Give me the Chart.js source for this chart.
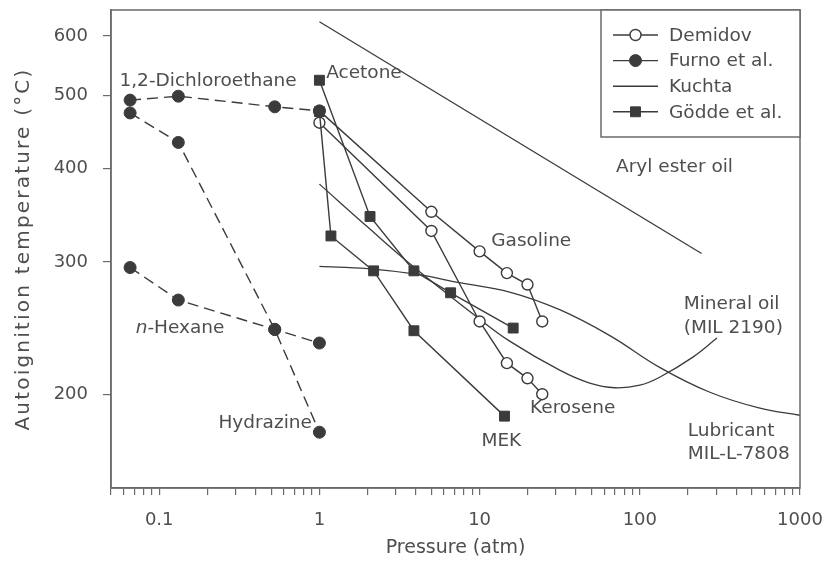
<!DOCTYPE html>
<html>
<head>
<meta charset="utf-8">
<script src="https://cdn.jsdelivr.net/npm/chart.js@4/dist/chart.umd.min.js"></script>
<style>
html,body{margin:0;padding:0;background:#fff;}
#wrap{width:826px;height:562px;}
</style>
</head>
<body>
<div id="wrap"><canvas id="c" width="826" height="562"></canvas></div>
<script>
// ---------------- data ----------------
const xTickValues = [0.1, 1, 10, 100, 1000];
const xTickLabels = ['0.1', '1', '10', '100', '1000'];
const yTickValues = [200, 300, 400, 500, 600];
const yTickLabels = ['200', '300', '400', '500', '600'];
const legendNames = ['Demidov', 'Furno et al.', 'Kuchta', 'Gödde et al.'];

// Demidov (open circles)
const gasolineP = [1, 5, 10, 14.8, 19.9, 24.6];
const gasolineT = [477, 350, 310, 290, 280, 250];
const keroseneP = [1, 5, 10, 14.8, 19.9, 24.6];
const keroseneT = [460, 330, 250, 220, 210, 200];

// Furno et al. (filled circles, dashed)
const furnoP = [0.0658, 0.1316, 0.526, 1];
const dichloroethaneT = [493, 499, 483, 477];
const hydrazineT = [474, 433, 244, 178];
const hexaneT = [295, 267, 244, 234];

// Kuchta (plain lines)
const arylEsterP = [1, 243];
const arylEsterT = [627, 308];
const mineralOilP = [1, 2, 3.92, 10, 15.4, 31.6, 48.7, 69.8, 100, 133, 214.5, 303];
const mineralOilT = [381, 334, 295, 251.8, 235.4, 215.3, 206.9, 204, 205.6, 210.7, 224.1, 237.6];
const lubricantP = [1, 2, 4, 7.5, 15.4, 31.6, 65, 133, 274, 562, 1000];
const lubricantT = [296, 294, 289, 281.6, 273.6, 259.2, 239.4, 217.2, 201.2, 191.6, 187.5];

// Gödde et al. (filled squares)
const acetoneP = [1, 2.07, 3.89, 6.59, 16.2];
const acetoneT = [524, 345, 292, 273, 245];
const mekP = [1, 1.18, 2.18, 3.89, 14.3];
const mekT = [476, 325, 292, 243, 187];

// text labels placed in data coordinates (atm, °C)
const annotations = [
  {text: '1,2-Dichloroethane', x: 0.2017, y: 523, align: 'center'},
  {text: 'Acetone', x: 1.897, y: 535, align: 'center'},
  {text: 'Aryl ester oil', x: 164.7, y: 401, align: 'center'},
  {text: 'Gasoline', x: 21.0, y: 320, align: 'center'},
  {text: 'Mineral oil', x: 188, y: 263.5, align: 'left'},
  {text: '(MIL 2190)', x: 188, y: 245, align: 'left'},
  {text: 'Kerosene', x: 38.1, y: 191.8, align: 'center'},
  {text: 'MEK', x: 13.66, y: 173.2, align: 'center'},
  {text: 'Lubricant', x: 199.5, y: 178.5, align: 'left'},
  {text: 'MIL-L-7808', x: 199.5, y: 166.5, align: 'left'},
  {text: '-Hexane', italicPrefix: 'n', x: 0.1349, y: 244.7, align: 'center'},
  {text: 'Hydrazine', x: 0.4585, y: 183, align: 'center'}
];

// ---------------- styles ----------------
const INK = '#3b3b3b';
const TEXT = '#4e4e4e';
const FAMILY = '"DejaVu Sans", Verdana, sans-serif';

function pts(P, T) { return P.map((p, i) => ({x: p, y: T[i]})); }

const demidovStyle = {borderColor: INK, borderWidth: 1.4, pointStyle: 'circle', pointRadius: 5.5,
  pointBackgroundColor: '#fff', pointBorderColor: INK, pointBorderWidth: 1.4};
const furnoStyle = {borderColor: INK, borderWidth: 1.4, borderDash: [11, 6], pointStyle: 'circle', pointRadius: 6,
  pointBackgroundColor: INK, pointBorderColor: INK, pointBorderWidth: 1};
const kuchtaStyle = {borderColor: INK, borderWidth: 1.3, pointRadius: 0, tension: 0.4};
const goddeStyle = {borderColor: INK, borderWidth: 1.4, pointStyle: 'rect', pointRadius: 7,
  pointBackgroundColor: INK, pointBorderColor: INK, pointBorderWidth: 1};

const datasets = [
  Object.assign({label: '1,2-Dichloroethane', data: pts(furnoP, dichloroethaneT)}, furnoStyle),
  Object.assign({label: 'Hydrazine', data: pts(furnoP, hydrazineT)}, furnoStyle),
  Object.assign({label: 'n-Hexane', data: pts(furnoP, hexaneT)}, furnoStyle),
  Object.assign({label: 'Acetone', data: pts(acetoneP, acetoneT)}, goddeStyle),
  Object.assign({label: 'MEK', data: pts(mekP, mekT)}, goddeStyle),
  Object.assign({label: 'Gasoline', data: pts(gasolineP, gasolineT)}, demidovStyle),
  Object.assign({label: 'Kerosene', data: pts(keroseneP, keroseneT)}, demidovStyle),
  Object.assign({label: 'Aryl ester oil', data: pts(arylEsterP, arylEsterT)}, kuchtaStyle, {tension: 0}),
  Object.assign({label: 'Mineral oil (MIL 2190)', data: pts(mineralOilP, mineralOilT)}, kuchtaStyle),
  Object.assign({label: 'Lubricant MIL-L-7808', data: pts(lubricantP, lubricantT)}, kuchtaStyle)
];

// all x tick marks (labelled decades + unlabelled minor marks)
const xAllTicks = [];
for (let e = -2; e <= 2; e++) {
  for (let m = 1; m <= 9; m++) {
    const v = Number((m * Math.pow(10, e)).toPrecision(3));
    if (v >= 0.05 && v <= 1000) xAllTicks.push(v);
  }
}
xAllTicks.push(1000);

// ---------------- plugins ----------------
const spacedYTitle = {
  id: 'spacedYTitle',
  beforeDraw(chart) {
    const s = chart.scales.y;
    if (s && !s._spacedTitle) {
      const orig = s.drawTitle.bind(s);
      s.drawTitle = function () {
        const ctx = this.ctx;
        const prev = ctx.letterSpacing;
        ctx.letterSpacing = '2.2px';
        orig();
        ctx.letterSpacing = prev || '0px';
      };
      s._spacedTitle = true;
    }
  }
};

const frameTextLegend = {
  id: 'frameTextLegend',
  afterDatasetsDraw(chart) {
    const ctx = chart.ctx;
    const a = chart.chartArea;
    const xs = chart.scales.x, ys = chart.scales.y;
    ctx.save();
    // frame
    ctx.strokeStyle = '#6a6a6a';
    ctx.lineWidth = 1.5;
    ctx.strokeRect(a.left, a.top, a.right - a.left, a.bottom - a.top);

    // annotations
    ctx.fillStyle = TEXT;
    ctx.textBaseline = 'middle';
    const normalFont = '18.5px ' + FAMILY;
    const italicFont = 'italic 18.5px ' + FAMILY;
    annotations.forEach(an => {
      const px = xs.getPixelForValue(an.x);
      const py = ys.getPixelForValue(an.y);
      if (an.italicPrefix) {
        ctx.font = italicFont;
        const w1 = ctx.measureText(an.italicPrefix).width;
        ctx.font = normalFont;
        const w2 = ctx.measureText(an.text).width;
        let start = an.align === 'left' ? px : px - (w1 + w2) / 2;
        ctx.textAlign = 'left';
        ctx.font = italicFont;
        ctx.fillText(an.italicPrefix, start, py);
        ctx.font = normalFont;
        ctx.fillText(an.text, start + w1, py);
      } else {
        ctx.font = normalFont;
        ctx.textAlign = an.align || 'center';
        ctx.fillText(an.text, px, py);
      }
    });

    // legend box
    const bw = 199, bh = 127;
    const bx = a.right - bw, by = a.top;
    ctx.fillStyle = '#fff';
    ctx.fillRect(bx, by, bw, bh);
    ctx.strokeStyle = '#6a6a6a';
    ctx.lineWidth = 1.5;
    ctx.strokeRect(bx, by, bw, bh);
    const styles = [demidovStyle, furnoStyle, kuchtaStyle, goddeStyle];
    legendNames.forEach((name, i) => {
      const cy = by + 25 + i * 25.6;
      const x0 = bx + 12, x1 = bx + 57;
      const st = styles[i];
      ctx.strokeStyle = INK;
      ctx.lineWidth = 1.4;
      ctx.setLineDash([]);
      ctx.beginPath();
      ctx.moveTo(x0, cy);
      ctx.lineTo(x1, cy);
      ctx.stroke();
      const cx = (x0 + x1) / 2;
      if (st.pointRadius > 0) {
        ctx.fillStyle = st.pointBackgroundColor;
        ctx.strokeStyle = st.pointBorderColor;
        ctx.lineWidth = st.pointBorderWidth;
        ctx.beginPath();
        if (st.pointStyle === 'rect') {
          const h = st.pointRadius * Math.SQRT1_2;
          ctx.rect(cx - h, cy - h, 2 * h, 2 * h);
        } else {
          ctx.arc(cx, cy, st.pointRadius, 0, Math.PI * 2);
        }
        ctx.fill();
        ctx.stroke();
      }
      ctx.fillStyle = TEXT;
      ctx.font = normalFont;
      ctx.textAlign = 'left';
      ctx.textBaseline = 'middle';
      ctx.fillText(name, bx + 68, cy + 1);
    });
    ctx.restore();
  }
};

// ---------------- chart ----------------
new Chart(document.getElementById('c').getContext('2d'), {
  type: 'line',
  data: {datasets},
  options: {
    responsive: false,
    animation: false,
    layout: {padding: {left: 0, top: 10, right: 26, bottom: 0}},
    plugins: {legend: {display: false}, tooltip: {enabled: false}},
    scales: {
      x: {
        type: 'logarithmic',
        min: 0.05,
        max: 1000,
        afterBuildTicks: s => { s.ticks = xAllTicks.map(v => ({value: v})); },
        afterFit: s => { s.height = 74; s.paddingLeft = 0; s.paddingRight = 0; },
        ticks: {
          autoSkip: false, maxRotation: 0, minRotation: 0, padding: 15, color: TEXT,
          font: {family: FAMILY, size: 18},
          callback: v => { const i = xTickValues.indexOf(v); return i >= 0 ? xTickLabels[i] : ''; }
        },
        grid: {drawOnChartArea: false, drawTicks: true, tickLength: 7, color: '#6a6a6a', lineWidth: 1.2},
        border: {display: true, color: '#6a6a6a', width: 1.5},
        title: {display: true, text: 'Pressure (atm)', color: TEXT, font: {family: FAMILY, size: 19},
          padding: {top: 0, bottom: 3}}
      },
      y: {
        type: 'logarithmic',
        min: 150,
        max: 650,
        afterBuildTicks: s => { s.ticks = yTickValues.map(v => ({value: v})); },
        afterFit: s => { s.width = 111; s.paddingTop = 0; s.paddingBottom = 0; },
        ticks: {
          autoSkip: false, padding: 15, color: TEXT,
          font: {family: FAMILY, size: 18},
          callback: v => { const i = yTickValues.indexOf(v); return i >= 0 ? yTickLabels[i] : ''; }
        },
        grid: {drawOnChartArea: false, drawTicks: true, tickLength: 8, color: '#6a6a6a', lineWidth: 1.2},
        border: {display: true, color: '#6a6a6a', width: 1.5},
        title: {display: true, text: 'Autoignition temperature (°C)', color: TEXT,
          font: {family: FAMILY, size: 20}, padding: {top: 12, bottom: 0}}
      }
    }
  },
  plugins: [spacedYTitle, frameTextLegend]
});
</script>
</body>
</html>
